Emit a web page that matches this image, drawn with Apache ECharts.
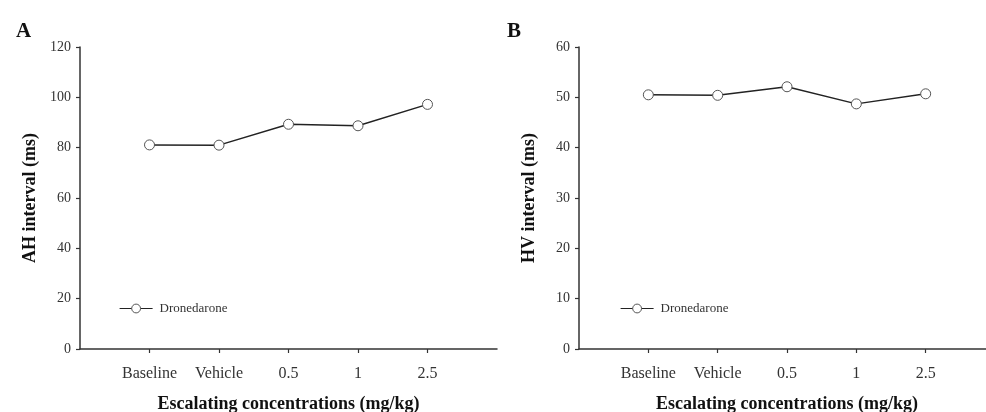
<!DOCTYPE html>
<html>
<head>
<meta charset="utf-8">
<script src="https://cdn.jsdelivr.net/npm/echarts@6/dist/echarts.min.js"></script>
<style>
html,body{margin:0;padding:0;background:#fff;}
#chart{width:986px;height:412px;}
</style>
</head>
<body>
<div id="chart"></div>
<script>
const categories = ['Baseline', 'Vehicle', '0.5', '1', '2.5'];
const ahValues = [81.1, 81.0, 89.3, 88.7, 97.2];
const hvValues = [50.5, 50.4, 52.1, 48.7, 50.7];
const ahTicks = { min: 0, max: 120, interval: 20 };
const hvTicks = { min: 0, max: 60, interval: 10 };
const seriesName = 'Dronedarone';
const xTitle = 'Escalating concentrations (mg/kg)';
const ahTitle = 'AH interval (ms)';
const hvTitle = 'HV interval (ms)';
const panelLabels = ['A', 'B'];

const FONT = '"Liberation Serif", "Times New Roman", serif';
const tickPos = categories.map((c, i) => i + 1);

function xAxisCfg(gridIndex) {
  return {
    type: 'value', gridIndex: gridIndex, min: 0, max: categories.length + 1,
    name: xTitle, nameLocation: 'middle', nameGap: 46,
    nameTextStyle: { fontFamily: FONT, fontSize: 18, fontWeight: 'bold', color: '#111' },
    axisLine: { show: true, lineStyle: { color: '#333', width: 1.5 } },
    axisTick: { show: true, length: 4, customValues: tickPos, lineStyle: { color: '#333', width: 1.2 } },
    axisLabel: { customValues: tickPos, margin: 17, fontFamily: FONT, fontSize: 16, color: '#333',
      formatter: v => categories[Math.round(v) - 1] || '' },
    splitLine: { show: false }
  };
}
function yAxisCfg(gridIndex, ticks, title) {
  return {
    type: 'value', gridIndex: gridIndex, min: ticks.min, max: ticks.max, interval: ticks.interval,
    name: title, nameLocation: 'middle', nameGap: 41, nameRotate: 90,
    nameTextStyle: { fontFamily: FONT, fontSize: 18, fontWeight: 'bold', color: '#111' },
    axisLine: { show: true, lineStyle: { color: '#333', width: 1.5 } },
    axisTick: { show: true, length: 4, lineStyle: { color: '#333', width: 1.2 } },
    axisLabel: { margin: 9, fontFamily: FONT, fontSize: 14, color: '#333' },
    splitLine: { show: false }
  };
}
function seriesCfg(idx, values) {
  return {
    type: 'line', name: seriesName, xAxisIndex: idx, yAxisIndex: idx,
    data: values.map((v, i) => [i + 1, v]),
    symbol: 'circle', symbolSize: 10, showSymbol: true,
    lineStyle: { color: '#222', width: 1.5 },
    itemStyle: { color: '#fff', borderColor: '#555', borderWidth: 1 },
    z: 3
  };
}
function legendCfg(left) {
  return {
    data: [seriesName], left: left, top: 302, padding: 0,
    itemWidth: 33, itemHeight: 11, itemGap: 5,
    itemStyle: { color: '#fff', borderColor: '#555', borderWidth: 1 },
    lineStyle: { color: '#222', width: 1.2 },
    textStyle: { fontFamily: FONT, fontSize: 13, color: '#333', padding: [0, 0, 0, 2] },
    selectedMode: false
  };
}

const chart = echarts.init(document.getElementById('chart'), null, { renderer: 'canvas' });
chart.setOption({
  animation: false,
  backgroundColor: '#fff',
  title: [
    { text: panelLabels[0], left: 11, top: 16, textStyle: { fontFamily: FONT, fontSize: 21, fontWeight: 'bold', color: '#111' } },
    { text: panelLabels[1], left: 502, top: 16, textStyle: { fontFamily: FONT, fontSize: 21, fontWeight: 'bold', color: '#111' } }
  ],
  grid: [
    { left: 80, top: 47, width: 417, bottom: 63, containLabel: false, outerBoundsMode: 'none' },
    { left: 579, top: 47, width: 416, bottom: 63, containLabel: false, outerBoundsMode: 'none' }
  ],
  legend: [legendCfg(119), legendCfg(620)],
  xAxis: [xAxisCfg(0), xAxisCfg(1)],
  yAxis: [yAxisCfg(0, ahTicks, ahTitle), yAxisCfg(1, hvTicks, hvTitle)],
  series: [seriesCfg(0, ahValues), seriesCfg(1, hvValues)]
});
</script>
</body>
</html>
